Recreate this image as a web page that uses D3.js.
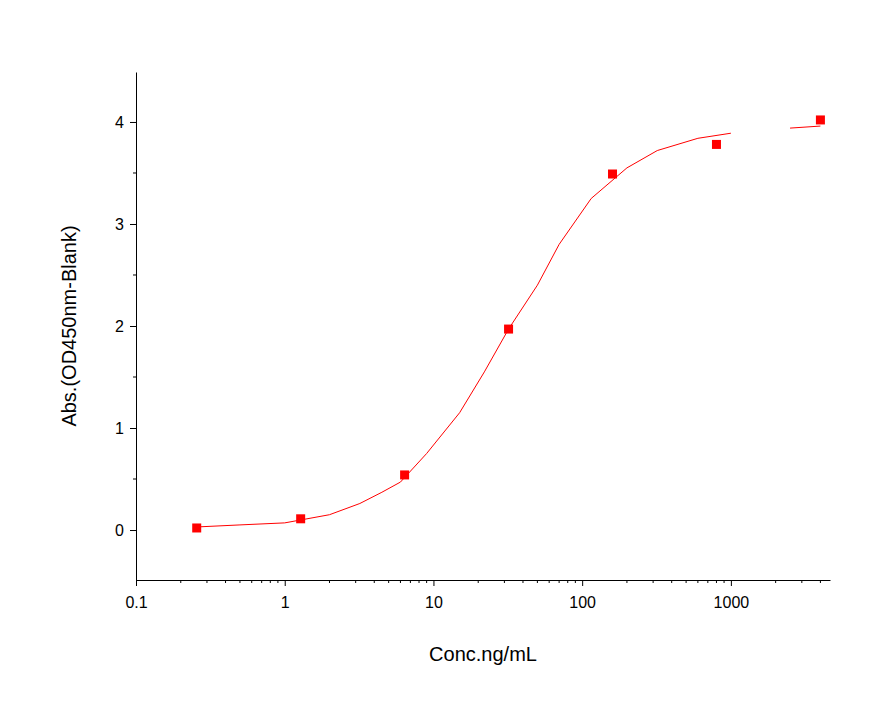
<!DOCTYPE html>
<html><head><meta charset="utf-8">
<script src="https://cdn.jsdelivr.net/npm/d3@7"></script>
<style>body{margin:0;background:#fff}</style></head>
<body><svg id="c" width="880" height="719"></svg>
<script>
const pointX=[0.256,1.28,6.4,32,160,800,4000];
const pointY=[0.02,0.11,0.54,1.97,3.49,3.78,4.02];
const curveSeg1X=[0.256,0.5,1,2,3.2,4.5,6,9,15,22,32,50,70,115,200,320,600,1000];
const curveSeg1Y=[0.03,0.05,0.07,0.15,0.26,0.37,0.47,0.75,1.15,1.55,1.97,2.4,2.8,3.25,3.55,3.72,3.84,3.89];
const curveSeg2X=[2500,4000];
const curveSeg2Y=[3.94,3.96];
const xTicks=[0.1,1,10,100,1000];
const yTicks=[0,1,2,3,4];

const svg=d3.select("#c");
const x=d3.scaleLog().domain([0.1,4640]).range([136,830]);
const y=d3.scaleLinear().domain([-0.49,4.49]).range([580,72]);
const font="Arial, 'Liberation Sans', sans-serif";

const xa=svg.append("g").attr("transform","translate(0,580)")
 .call(d3.axisBottom(x).tickValues(xTicks).tickFormat(d3.format("~g")).tickSize(6).tickSizeOuter(0));
const minors=[];
for(let e=-1;e<4;e++)for(let k=2;k<10;k++){const v=k*Math.pow(10,e);if(v<=4640)minors.push(v);}
svg.append("g").selectAll("line").data(minors).join("line")
 .attr("x1",d=>x(d)).attr("x2",d=>x(d)).attr("y1",580).attr("y2",583).attr("stroke","#000");
const ya=svg.append("g").attr("transform","translate(136,0)")
 .call(d3.axisLeft(y).tickValues(yTicks).tickFormat(d3.format("d")).tickSize(6).tickSizeOuter(0));
const yminor=[-0.5,0.5,1.5,2.5,3.5,4.5].filter(v=>v>=-0.49&&v<=4.49);
svg.append("g").selectAll("line").data(yminor).join("line")
 .attr("x1",133).attr("x2",136).attr("y1",d=>y(d)).attr("y2",d=>y(d)).attr("stroke","#000");
[xa,ya].forEach(a=>{a.selectAll("text").attr("font-size",16).attr("font-family",font).attr("fill","#000");a.select(".domain").attr("stroke","#000");});
xa.selectAll("text").attr("dy","1.2em");
ya.selectAll("text").attr("x",-12);

const line=d3.line().x(d=>x(d[0])).y(d=>y(d[1]));
svg.append("path").attr("d",line(d3.zip(curveSeg1X,curveSeg1Y))).attr("fill","none").attr("stroke","#f00").attr("stroke-width",1);
svg.append("path").attr("d",line(d3.zip(curveSeg2X,curveSeg2Y))).attr("fill","none").attr("stroke","#f00").attr("stroke-width",1);
svg.append("g").selectAll("rect").data(d3.zip(pointX,pointY)).join("rect")
 .attr("x",d=>x(d[0])-4.5).attr("y",d=>y(d[1])-4.5).attr("width",9).attr("height",9).attr("fill","#f00");

svg.append("text").attr("x",483).attr("y",661).attr("text-anchor","middle").attr("font-size",20).attr("font-family",font).text("Conc.ng/mL");
svg.append("text").attr("transform","translate(76,326) rotate(-90)").attr("text-anchor","middle").attr("font-size",20).attr("font-family",font).text("Abs.(OD450nm-Blank)");
</script></body></html>
